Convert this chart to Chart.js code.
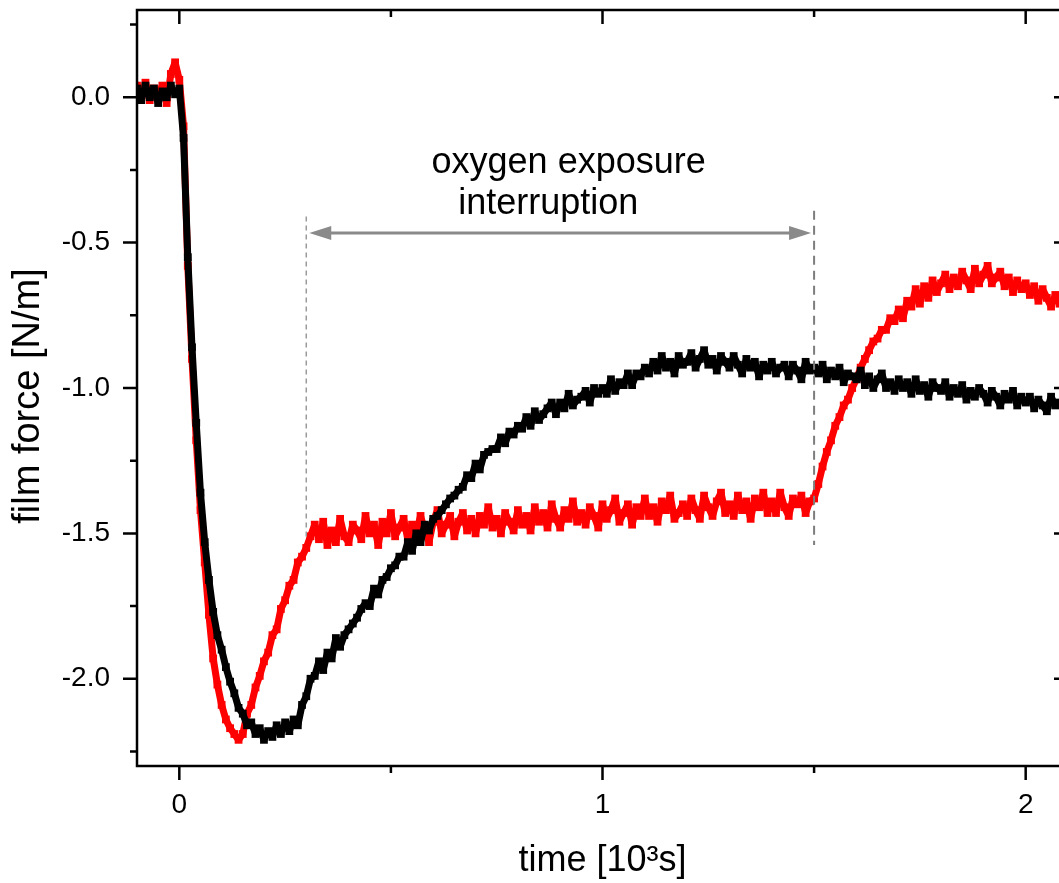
<!DOCTYPE html>
<html><head><meta charset="utf-8">
<script src="https://cdn.jsdelivr.net/npm/chart.js@4/dist/chart.umd.min.js"></script>
<style>html,body{margin:0;padding:0;background:#fff;overflow:hidden;width:1059px;height:883px}
#wrap{position:absolute;left:0;top:0;width:1075px;height:883px}</style></head>
<body><div id="wrap"><canvas id="c" width="1075" height="883"></canvas></div>
<script>
const time = [
-0.10,-0.09,-0.08,-0.07,-0.06,-0.05,-0.04,-0.03,-0.02,-0.01,
0.00,0.01,0.02,0.03,0.04,0.05,0.06,0.07,0.08,0.09,
0.10,0.11,0.12,0.13,0.14,0.15,0.16,0.17,0.18,0.19,
0.20,0.21,0.22,0.23,0.24,0.25,0.26,0.27,0.28,0.29,
0.30,0.31,0.32,0.33,0.34,0.35,0.36,0.37,0.38,0.39,
0.40,0.41,0.42,0.43,0.44,0.45,0.46,0.47,0.48,0.49,
0.50,0.51,0.52,0.53,0.54,0.55,0.56,0.57,0.58,0.59,
0.60,0.61,0.62,0.63,0.64,0.65,0.66,0.67,0.68,0.69,
0.70,0.71,0.72,0.73,0.74,0.75,0.76,0.77,0.78,0.79,
0.80,0.81,0.82,0.83,0.84,0.85,0.86,0.87,0.88,0.89,
0.90,0.91,0.92,0.93,0.94,0.95,0.96,0.97,0.98,0.99,
1.00,1.01,1.02,1.03,1.04,1.05,1.06,1.07,1.08,1.09,
1.10,1.11,1.12,1.13,1.14,1.15,1.16,1.17,1.18,1.19,
1.20,1.21,1.22,1.23,1.24,1.25,1.26,1.27,1.28,1.29,
1.30,1.31,1.32,1.33,1.34,1.35,1.36,1.37,1.38,1.39,
1.40,1.41,1.42,1.43,1.44,1.45,1.46,1.47,1.48,1.49,
1.50,1.51,1.52,1.53,1.54,1.55,1.56,1.57,1.58,1.59,
1.60,1.61,1.62,1.63,1.64,1.65,1.66,1.67,1.68,1.69,
1.70,1.71,1.72,1.73,1.74,1.75,1.76,1.77,1.78,1.79,
1.80,1.81,1.82,1.83,1.84,1.85,1.86,1.87,1.88,1.89,
1.90,1.91,1.92,1.93,1.94,1.95,1.96,1.97,1.98,1.99,
2.00,2.01,2.02,2.03,2.04,2.05,2.06,2.07,2.08];

const blackForce = [
0.03,-0.01,0.04,0.00,0.03,-0.02,0.02,0.00,0.04,0.01,
0.03,-0.14,-0.55,-0.86,-1.12,-1.36,-1.53,-1.66,-1.77,-1.85,
-1.90,-1.96,-2.01,-2.05,-2.10,-2.12,-2.16,-2.15,-2.19,-2.17,
-2.21,-2.18,-2.20,-2.16,-2.19,-2.15,-2.18,-2.14,-2.16,-2.09,
-2.06,-2.00,-1.99,-1.94,-1.97,-1.91,-1.93,-1.86,-1.89,-1.85,
-1.83,-1.81,-1.79,-1.76,-1.74,-1.75,-1.69,-1.71,-1.66,-1.65,
-1.62,-1.61,-1.58,-1.58,-1.53,-1.56,-1.50,-1.53,-1.47,-1.49,
-1.45,-1.44,-1.42,-1.40,-1.38,-1.37,-1.35,-1.34,-1.30,-1.31,
-1.26,-1.28,-1.23,-1.22,-1.21,-1.21,-1.17,-1.19,-1.15,-1.16,
-1.13,-1.14,-1.10,-1.13,-1.08,-1.11,-1.09,-1.07,-1.05,-1.09,
-1.05,-1.07,-1.02,-1.06,-1.04,-1.03,-1.01,-1.05,-1.00,-1.02,
-1.00,-1.02,-0.97,-1.01,-0.98,-0.99,-0.95,-0.99,-0.95,-0.96,
-0.93,-0.95,-0.91,-0.94,-0.89,-0.93,-0.91,-0.95,-0.89,-0.92,
-0.91,-0.88,-0.93,-0.90,-0.87,-0.92,-0.90,-0.94,-0.89,-0.91,
-0.93,-0.89,-0.92,-0.95,-0.90,-0.93,-0.91,-0.96,-0.92,-0.94,
-0.91,-0.95,-0.93,-0.92,-0.96,-0.92,-0.94,-0.97,-0.91,-0.94,
-0.93,-0.95,-0.92,-0.97,-0.94,-0.96,-0.93,-0.98,-0.95,-0.96,
-0.97,-0.94,-0.99,-0.96,-1.00,-0.97,-0.95,-1.00,-0.98,-1.01,
-0.97,-1.00,-0.98,-1.02,-0.97,-1.01,-0.99,-1.03,-0.98,-1.00,
-1.01,-0.98,-1.03,-1.00,-1.02,-0.99,-1.04,-1.01,-1.03,-1.00,
-1.02,-1.05,-1.01,-1.03,-1.06,-1.02,-1.04,-1.01,-1.06,-1.03,
-1.05,-1.03,-1.07,-1.04,-1.06,-1.08,-1.03,-1.06,-1.05];

const redForce = [
0.04,0.00,0.05,-0.01,0.03,0.01,0.04,-0.02,0.08,0.12,
0.06,-0.10,-0.58,-0.90,-1.18,-1.42,-1.60,-1.78,-1.93,-2.02,
-2.09,-2.14,-2.17,-2.19,-2.21,-2.19,-2.12,-2.09,-2.03,-1.99,
-1.94,-1.91,-1.85,-1.83,-1.76,-1.73,-1.68,-1.66,-1.60,-1.58,
-1.55,-1.51,-1.47,-1.52,-1.46,-1.54,-1.49,-1.53,-1.45,-1.51,
-1.53,-1.47,-1.49,-1.52,-1.44,-1.50,-1.47,-1.54,-1.46,-1.50,
-1.43,-1.51,-1.48,-1.45,-1.52,-1.47,-1.50,-1.44,-1.49,-1.53,
-1.46,-1.42,-1.50,-1.47,-1.44,-1.51,-1.46,-1.43,-1.49,-1.45,
-1.50,-1.44,-1.47,-1.41,-1.48,-1.45,-1.50,-1.43,-1.46,-1.49,
-1.42,-1.47,-1.44,-1.49,-1.41,-1.46,-1.43,-1.48,-1.40,-1.45,
-1.48,-1.42,-1.45,-1.39,-1.46,-1.43,-1.47,-1.41,-1.44,-1.48,
-1.40,-1.45,-1.42,-1.38,-1.46,-1.43,-1.40,-1.47,-1.41,-1.44,
-1.38,-1.44,-1.41,-1.46,-1.39,-1.42,-1.37,-1.45,-1.43,-1.40,
-1.44,-1.38,-1.42,-1.45,-1.37,-1.41,-1.44,-1.39,-1.36,-1.43,
-1.40,-1.44,-1.37,-1.42,-1.39,-1.45,-1.38,-1.41,-1.36,-1.43,
-1.39,-1.43,-1.36,-1.41,-1.44,-1.38,-1.40,-1.37,-1.43,-1.39,
-1.38,-1.33,-1.27,-1.22,-1.18,-1.13,-1.10,-1.06,-1.04,-1.00,
-0.97,-0.93,-0.90,-0.87,-0.84,-0.83,-0.80,-0.80,-0.76,-0.77,
-0.73,-0.76,-0.70,-0.72,-0.66,-0.71,-0.65,-0.69,-0.63,-0.67,
-0.64,-0.61,-0.66,-0.62,-0.65,-0.60,-0.63,-0.66,-0.59,-0.64,
-0.61,-0.58,-0.64,-0.62,-0.60,-0.65,-0.62,-0.67,-0.63,-0.66,
-0.64,-0.68,-0.65,-0.70,-0.66,-0.69,-0.72,-0.68,-0.71];

const xMajorTicks = [0, 1, 2];
const xMinorTicks = [0.5, 1.5];
const yMajorTicks = [0, -0.5, -1, -1.5, -2];
const yMinorTicks = [0.25, -0.25, -0.75, -1.25, -1.75, -2.25];
const xTitle = 'time [10³s]';
const yTitle = 'film force [N/m]';
const noteLines = ['oxygen exposure', 'interruption'];
const interruptStart = 0.3, interruptEnd = 1.5;

const FONT = '"Liberation Sans", Arial, sans-serif';

const framePlugin = {
  id: 'frame',
  afterDatasetsDraw(chart) {
    const ctx = chart.ctx, a = chart.chartArea, xs = chart.scales.x, ys = chart.scales.y;
    ctx.save();
    ctx.strokeStyle = '#000'; ctx.lineWidth = 2.5; ctx.lineCap = 'butt';
    ctx.strokeRect(a.left, a.top, a.right - a.left, a.bottom - a.top);
    const major = 14, minor = 7;
    ctx.beginPath();
    const xt = (v, len) => { const p = xs.getPixelForValue(v);
      ctx.moveTo(p, a.bottom); ctx.lineTo(p, a.bottom + len);
      ctx.moveTo(p, a.top); ctx.lineTo(p, a.top + len); };
    const yt = (v, len) => { const p = ys.getPixelForValue(v);
      ctx.moveTo(a.left, p); ctx.lineTo(a.left - len, p);
      ctx.moveTo(a.right, p); ctx.lineTo(a.right - len, p); };
    xMajorTicks.forEach(v => xt(v, major)); xMinorTicks.forEach(v => xt(v, minor));
    yMajorTicks.forEach(v => yt(v, major)); yMinorTicks.forEach(v => yt(v, minor));
    ctx.stroke();

    // annotation
    const x1 = xs.getPixelForValue(interruptStart), x2 = xs.getPixelForValue(interruptEnd);
    ctx.lineWidth = 1.5; ctx.strokeStyle = '#9a9a9a'; ctx.setLineDash([5, 4]);
    ctx.beginPath(); ctx.moveTo(x1, ys.getPixelForValue(-0.41)); ctx.lineTo(x1, ys.getPixelForValue(-1.52)); ctx.stroke();
    ctx.lineWidth = 2; ctx.strokeStyle = '#7d7d7d'; ctx.setLineDash([9, 6]);
    ctx.beginPath(); ctx.moveTo(x2, ys.getPixelForValue(-0.39)); ctx.lineTo(x2, ys.getPixelForValue(-1.54)); ctx.stroke();
    ctx.setLineDash([]);
    const ay = ys.getPixelForValue(-0.467);
    const l = x1 + 3, r = x2 - 3, hl = 22, hw = 7;
    ctx.strokeStyle = '#8a8a8a'; ctx.fillStyle = '#8a8a8a'; ctx.lineWidth = 3;
    ctx.beginPath(); ctx.moveTo(l + hl - 2, ay); ctx.lineTo(r - hl + 2, ay); ctx.stroke();
    ctx.beginPath(); ctx.moveTo(l, ay); ctx.lineTo(l + hl, ay - hw); ctx.lineTo(l + hl, ay + hw); ctx.closePath(); ctx.fill();
    ctx.beginPath(); ctx.moveTo(r, ay); ctx.lineTo(r - hl, ay - hw); ctx.lineTo(r - hl, ay + hw); ctx.closePath(); ctx.fill();

    ctx.fillStyle = '#000'; ctx.font = '36px ' + FONT; ctx.textAlign = 'center'; ctx.textBaseline = 'alphabetic';
    ctx.fillText(noteLines[0], xs.getPixelForValue(0.92), ys.getPixelForValue(-0.261));
    ctx.fillText(noteLines[1], xs.getPixelForValue(0.872), ys.getPixelForValue(-0.402));

    // y axis title
    ctx.save();
    ctx.translate(29, 396); ctx.rotate(-Math.PI / 2);
    ctx.font = '38px ' + FONT; ctx.textBaseline = 'middle'; ctx.textAlign = 'center';
    ctx.fillText(yTitle, 0, 0);
    ctx.restore();
    ctx.restore();
  }
};

const ds = (vals, color) => ({
  data: time.map((t, i) => ({ x: t, y: vals[i] })),
  showLine: true, borderColor: color, backgroundColor: color, borderWidth: 7,
  borderJoinStyle: 'bevel', pointStyle: 'rect', pointRadius: 5.5, pointBorderWidth: 0,
  pointHoverRadius: 5.5, tension: 0
});

new Chart(document.getElementById('c'), {
  type: 'scatter',
  data: { datasets: [ds(blackForce, '#000000'), ds(redForce, '#ff0000')] },
  options: {
    responsive: false, animation: false, devicePixelRatio: 1,
    layout: { padding: { top: 10, right: 7, left: 0, bottom: 0 } },
    plugins: { legend: { display: false }, tooltip: { enabled: false } },
    scales: {
      x: {
        type: 'linear', min: -0.1, max: 2.1,
        afterBuildTicks: s => { s.ticks = xMajorTicks.map(v => ({ value: v })); },
        afterFit: s => { s.height = 117; s.paddingLeft = 0; s.paddingRight = 0; },
        grid: { display: false, drawTicks: false }, border: { display: false },
        ticks: { padding: 22, color: '#000', maxRotation: 0, font: { family: FONT, size: 28 }, callback: v => String(v) },
        title: { display: true, text: xTitle, color: '#000', font: { family: FONT, size: 36 }, padding: { top: 0, bottom: 0 } }
      },
      y: {
        type: 'linear', min: -2.3, max: 0.3,
        afterBuildTicks: s => { s.ticks = yMajorTicks.map(v => ({ value: v })); },
        afterFit: s => { s.width = 137; s.paddingTop = 0; s.paddingBottom = 0; },
        grid: { display: false, drawTicks: false }, border: { display: false },
        ticks: { padding: 27, color: '#000', font: { family: FONT, size: 28 }, callback: v => v.toFixed(1) },
        title: { display: false }
      }
    }
  },
  plugins: [framePlugin]
});
</script></body></html>
